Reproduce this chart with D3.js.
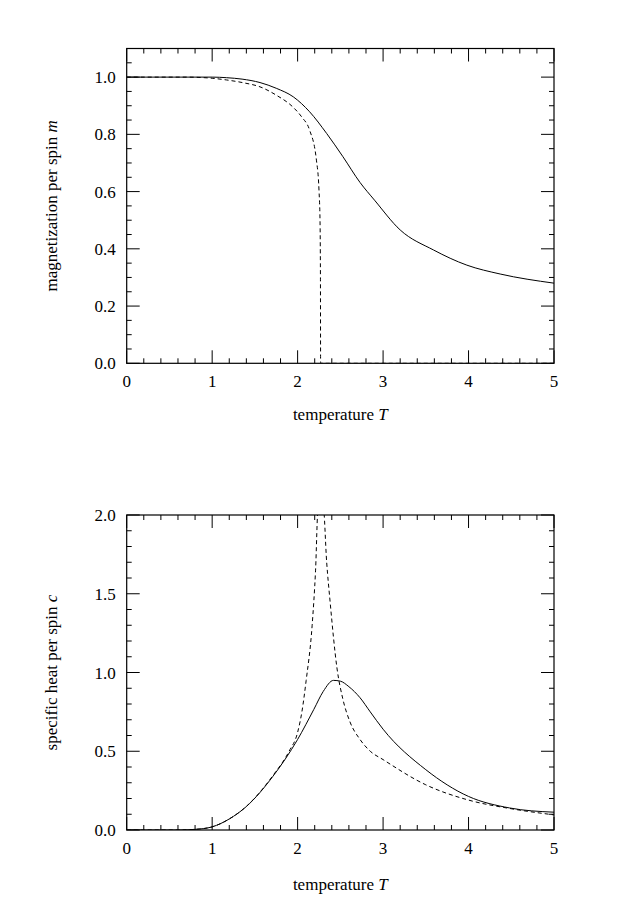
<!DOCTYPE html>
<html><head><meta charset="utf-8">
<script src="https://cdn.jsdelivr.net/npm/d3@7"></script>
<style>body{margin:0;background:#fff}</style>
</head><body><svg id="c" width="619" height="915"></svg>
<script>
// Magnetization, solid (approximation) and dashed (exact)
const mSolid = [[0,1],[1,1],[1.17,0.998],[1.35,0.993],[1.56,0.981],[1.75,0.961],[1.95,0.931],[2.14,0.879],[2.34,0.803],[2.53,0.722],[2.73,0.632],[2.9,0.57],[3.2,0.466],[3.59,0.396],[3.98,0.343],[4.37,0.312],[5,0.28]];
const mDashed = [[0,1],[0.7,1],[1.0,0.996],[1.17,0.99],[1.37,0.98],[1.56,0.966],[1.75,0.937],[1.95,0.894],[2.05,0.86],[2.14,0.815],[2.22,0.71],[2.25,0.605],[2.262,0.5],[2.267,0.3],[2.269,0],[5,0]];
// Specific heat
const cSolid = [[0,0],[0.6,0],[0.8,0.004],[1.0,0.02],[1.2,0.07],[1.4,0.149],[1.71,0.34],[2.0,0.575],[2.19,0.766],[2.3,0.88],[2.42,0.95],[2.5,0.945],[2.6,0.91],[2.73,0.84],[2.85,0.75],[3.0,0.64],[3.5,0.383],[4.0,0.213],[4.48,0.14],[5,0.113]];
const cDashed = [[0,0],[0.6,0],[0.8,0.004],[1.0,0.02],[1.2,0.07],[1.4,0.15],[1.71,0.345],[1.9,0.5],[2.0,0.62],[2.05,0.75],[2.1,0.95],[2.17,1.3],[2.21,1.65],[2.24,2.05],[2.30,2.05],[2.34,1.7],[2.38,1.45],[2.46,1.03],[2.53,0.83],[2.61,0.69],[2.73,0.575],[2.85,0.5],[3.0,0.447],[3.5,0.287],[4.0,0.19],[4.5,0.135],[5,0.096]];
const xTicks = [0,1,2,3,4,5];
const mTicks = [0,0.2,0.4,0.6,0.8,1.0];
const cTicks = [0,0.5,1.0,1.5,2.0];

const FONT = '"Liberation Serif","DejaVu Serif","Times New Roman",serif';
const svg = d3.select('#c').attr('font-family',FONT).attr('font-size',17);
const X0=126.7, X1=554;
function panel(top,bottom,ymax,yTicks,yMinorStep,yLabel,yVar,solid,dashed,xLabY){
  const x=d3.scaleLinear([0,5],[X0,X1]);
  const y=d3.scaleLinear([0,ymax],[bottom,top]);
  const g=svg.append('g');
  g.append('defs').append('clipPath').attr('id','cp'+top).append('rect').attr('x',X0).attr('y',top).attr('width',X1-X0).attr('height',bottom-top);
  const line=d3.line().x(d=>x(d[0])).y(d=>y(d[1])).curve(d3.curveMonotoneX);
  g.append('path').attr('d',line(solid)).attr('fill','none').attr('stroke','#000').attr('stroke-width',1).attr('clip-path',`url(#cp${top})`);
  g.append('path').attr('d',line(dashed)).attr('fill','none').attr('stroke','#000').attr('stroke-width',1).attr('stroke-dasharray','4,3').attr('clip-path',`url(#cp${top})`);
  g.append('rect').attr('x',X0).attr('y',top).attr('width',X1-X0).attr('height',bottom-top).attr('fill','none').attr('stroke','#000').attr('stroke-width',1.2);
  const xMinor=d3.range(0,5.0001,0.2);
  xMinor.forEach(v=>{const isMaj=Math.abs(v-Math.round(v))<1e-6;const L=isMaj?13:5;
    g.append('line').attr('x1',x(v)).attr('x2',x(v)).attr('y1',bottom).attr('y2',bottom-L).attr('stroke','#000');
    g.append('line').attr('x1',x(v)).attr('x2',x(v)).attr('y1',top).attr('y2',top+L).attr('stroke','#000');});
  const yMinor=d3.range(0,ymax+1e-6,yMinorStep);
  yMinor.forEach(v=>{const isMaj=yTicks.some(t=>Math.abs(t-v)<1e-6);const L=isMaj?13:5;
    g.append('line').attr('y1',y(v)).attr('y2',y(v)).attr('x1',X0).attr('x2',X0+L).attr('stroke','#000');
    g.append('line').attr('y1',y(v)).attr('y2',y(v)).attr('x1',X1).attr('x2',X1-L).attr('stroke','#000');});
  xTicks.forEach(v=>g.append('text').attr('x',x(v)).attr('y',bottom+24).attr('text-anchor','middle').text(v));
  yTicks.forEach(v=>g.append('text').attr('x',X0-11).attr('y',y(v)+6).attr('text-anchor','end').text(v.toFixed(1)));
  const xl=g.append('text').attr('x',(X0+X1)/2).attr('y',xLabY).attr('text-anchor','middle');
  xl.append('tspan').text('temperature ');xl.append('tspan').attr('font-style','italic').text('T');
  const yl=g.append('text').attr('transform',`translate(57,${(top+bottom)/2}) rotate(-90)`).attr('text-anchor','middle');
  yl.append('tspan').text(yLabel);yl.append('tspan').attr('font-style','italic').text(yVar);
}
panel(48.5,363.3,1.1,mTicks,0.05,'magnetization per spin ','m',mSolid,mDashed,420);
panel(515,830,2.0,cTicks,0.1,'specific heat per spin ','c',cSolid,cDashed,890);
</script></body></html>
